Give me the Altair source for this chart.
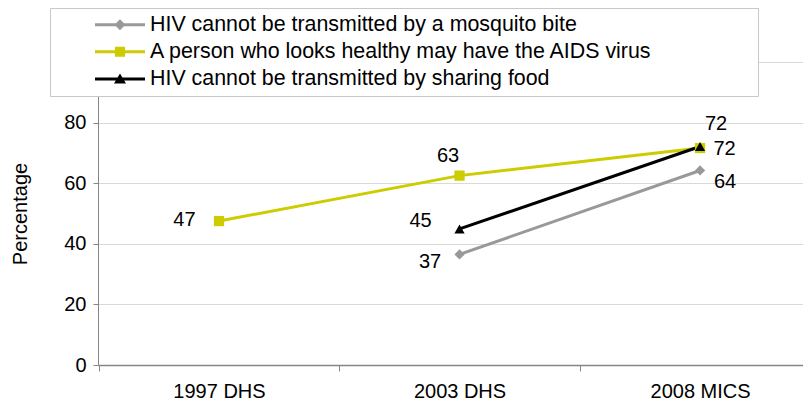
import altair as alt
import pandas as pd

years = ["1997 DHS", "2003 DHS", "2008 MICS"]
series_names = [
    "HIV cannot be transmitted by a mosquito bite",
    "A person who looks healthy may have the AIDS virus",
    "HIV cannot be transmitted by sharing food",
]
mosquito_values = [None, 36.5, 64.2]
healthy_values = [47.5, 62.5, 71.6]
food_values = [None, 44.9, 72.1]
mosquito_labels = [None, "37", "64"]
healthy_labels = ["47", "63", "72"]
food_labels = [None, "45", "72"]

series_colors = ["#999999", "#CCCC00", "#000000"]
series_shapes = ["diamond", "square", "triangle-up"]

# label placement (dx, dy) relative to each point: style only
label_offsets = {
    (0, "2003 DHS"): (-29.5, 7.5),
    (0, "2008 MICS"): (25, 11.5),
    (1, "1997 DHS"): (-34.5, -1),
    (1, "2003 DHS"): (-11.5, -19.5),
    (1, "2008 MICS"): (16, -24),
    (2, "2003 DHS"): (-39, -7.5),
    (2, "2008 MICS"): (24.5, 2.5),
}

rows = []
for si, (vals, labs) in enumerate(
    [(mosquito_values, mosquito_labels), (healthy_values, healthy_labels), (food_values, food_labels)]
):
    for xi, (yr, v, lab) in enumerate(zip(years, vals, labs)):
        if v is not None:
            rows.append({"series": series_names[si], "sidx": si, "year": yr, "xi": xi, "value": v, "label": lab})
df = pd.DataFrame(rows)

FONT = "Liberation Sans"

# legend symbols: line + marker drawn as one custom path each (unit = 10.5 px)
line_part = "M2.695,-0.143H7.457V0.143H2.695Z"
markers = [
    "M5.076,-0.524L5.6,0L5.076,0.524L4.552,0Z",
    "M4.6,-0.476H5.552V0.476H4.6Z",
    "M5.076,-0.524L5.647,0.429L4.505,0.429Z",
]
legend_paths = [line_part + m for m in markers]

legend = alt.Legend(
    title="\u00a0",
    titleOrient="right",
    titleFontSize=1,
    titlePadding=98.5,
    orient="none",
    legendX=-48,
    legendY=-54,
    fillColor="white",
    strokeColor="#c8c8c8",
    padding=6,
    rowPadding=4.1,
    symbolSize=441,
    symbolStrokeWidth=0,
    symbolOpacity=1,
    labelOffset=72.6,
    labelFont=FONT,
    labelFontSize=21.4,
    labelColor="black",
    labelLimit=800,
)

color_scale = alt.Scale(domain=series_names, range=series_colors)

year_list_expr = "[" + ",".join(f"'{y}'" for y in years) + "]"
x_enc = alt.X(
    "xi:Q",
    scale=alt.Scale(domain=[-0.503, 2.428], nice=False, zero=False),
    axis=alt.Axis(
        title=None,
        values=[-0.5, 0, 0.5, 1, 1.5, 2],
        labelExpr=f"datum.value % 1 === 0 ? {year_list_expr}[datum.value] : ''",
        labelAngle=0,
        labelFont=FONT,
        labelFontSize=20,
        labelColor="black",
        labelPadding=10,
        labelFlush=False,
        labelOverlap=False,
        labelBound=False,
        tickSize=6,
        tickOpacity={"condition": {"test": "datum.value % 1 === 0", "value": 0}, "value": 1},
        tickColor="#868686",
        domainColor="#868686",
        domainWidth=1.5,
        grid=False,
    ),
)
y_enc = alt.Y(
    "value:Q",
    scale=alt.Scale(domain=[0, 100]),
    axis=alt.Axis(
        values=[0, 20, 40, 60, 80, 100],
        title="Percentage",
        titleFont=FONT,
        titleFontSize=20,
        titleFontWeight="normal",
        titleColor="black",
        titlePadding=22,
        labelFont=FONT,
        labelFontSize=20,
        labelColor="black",
        labelPadding=7,
        tickSize=5,
        tickColor="#868686",
        domainColor="#868686",
        gridColor="#d9d9d9",
        gridWidth=1.2,
    ),
)

base = alt.Chart(df)

line_layers = []
point_layers = []
for si, name in enumerate(series_names):
    sub = base.transform_filter(alt.datum.sidx == si)
    line_layers.append(
        sub.mark_line(strokeWidth=3, color=series_colors[si]).encode(x=x_enc, y=y_enc)
    )
    point_layers.append(
        sub.mark_point(filled=True, size=105, opacity=1, shape=series_shapes[si], color=series_colors[si])
        .encode(x=x_enc, y=y_enc)
    )

# layer with no rows that only feeds the legend (line + marker symbols)
legend_layer = base.transform_filter("false").mark_point(filled=True, size=10).encode(
    x=x_enc,
    y=y_enc,
    color=alt.Color("series:N", scale=color_scale, legend=legend),
    shape=alt.Shape("series:N", scale=alt.Scale(domain=series_names, range=legend_paths), legend=legend),
)

texts = []
for (si, yr), (dx, dy) in label_offsets.items():
    texts.append(
        base.transform_filter((alt.datum.sidx == si) & (alt.datum.year == yr))
        .mark_text(dx=dx, dy=dy, align="center", baseline="middle", font=FONT, fontSize=20, color="black")
        .encode(x=x_enc, y=y_enc, text="label:N")
    )

chart = (
    alt.layer(*line_layers, *point_layers, legend_layer, *texts)
    .properties(
        width=705,
        height=303,
        padding={"left": 90, "top": 54, "right": 0, "bottom": 35},
        autosize=alt.AutoSizeParams(type="none"),
    )
    .configure(font=FONT)
    .configure_view(stroke=None)
)

chart.save("out.html", embed_options={"renderer": "svg", "actions": False})
